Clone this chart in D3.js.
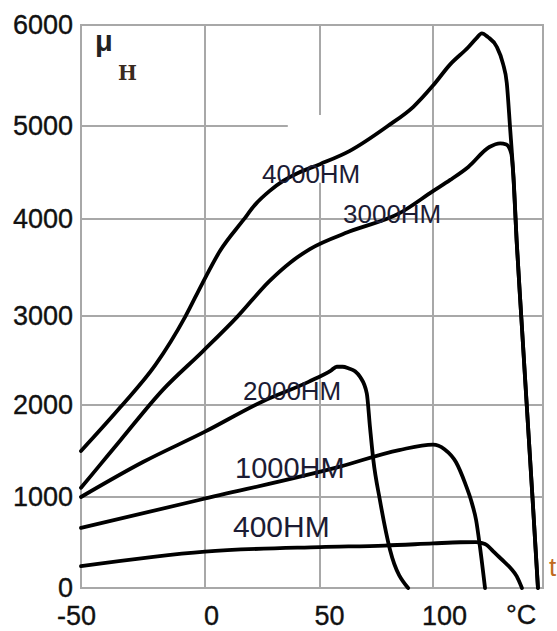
<!DOCTYPE html>
<html><head><meta charset="utf-8">
<script src="https://cdn.jsdelivr.net/npm/d3@7"></script>
<style>body{margin:0;background:#fff;} svg{display:block}</style>
</head><body><svg id="c" width="557" height="631"></svg>
<script>
// ---- data (temperature °C, initial permeability μH) ----
const xTicks = [-50, 0, 50, 100];
const yTicks = [0, 1000, 2000, 3000, 4000, 5000, 6000];
const xGrid = [0, 50, 100];
const yGrid = [1000, 2000, 3000, 4000, 5000];
const seriesNames = ["4000HM", "3000HM", "2000HM", "1000HM", "400HM"];

const t4000  = [-50,-34,-20,-8,-1,6.5,16.7,22,28,34,40,50,63,80,91.3,100,107.5,115.4,119,121.3,124,127.8,130.5,132.2,133.6,135.1,136.5,138.5,140.9,143.4,145.8];
const mu4000 = [1500,1980,2450,2990,3340,3670,3990,4160,4300,4410,4490,4590,4730,5000,5190,5400,5610,5780,5870,5918,5880,5785,5620,5425,4993,4455,3774,3000,2000,1000,0];

const t3000  = [-50,-42,-34,-17,-1,14,28,37,45.6,63,85,100,107.5,115.4,124.6,129.3,132,134.2,135.1,136.5,138.5,140.9,143.4,145.8];
const mu3000 = [1100,1360,1620,2170,2600,2990,3360,3550,3690,3870,4060,4300,4420,4560,4774,4814,4800,4700,4455,3774,3000,2000,1000,0];

const t2000  = [-50,-25,0,25,45,55,57.4,60,62.8,65.5,67.7,70.7,72.1,73.6,76.5,81,89];
const mu2000 = [1000,1380,1710,2040,2260,2390,2430,2430,2410,2380,2318,2131,1764,1402,967,418,0];

const t1000  = [-50,-2,58.8,85,100,105,110,114,117,118.8,120.5,122.7];
const mu1000 = [660,970,1330,1510,1570,1520,1380,1150,930,747,450,0];

const t400   = [-50,0,50,78.6,100,112,118.8,121,123.6,126,128,131,134,136.5,138.8];
const mu400  = [240,400,450,466,490,503,505,495,470,410,360,290,215,130,0];

// ---- layout ----
const x = d3.scaleLinear().domain([-50, 0, 50, 100, 148]).range([81, 205, 320, 433, 543]);
const y = d3.scaleLinear().domain([0,1000,2000,3000,4000,5000,6000]).range([588,497,405,316,219,126,25]);
const xMax = 148, yMax = 6000;

const svg = d3.select("#c");
const gridColor = "#a8a8a8";

// grid gaps (scan artefacts) in data units
const hGaps = {5000: [[36, 79.6]]};
const vGaps = {50: [[4390, 5110]]};

function segments(lo, hi, gaps) {
  let segs = [], start = lo;
  (gaps || []).forEach(([a, b]) => { segs.push([start, a]); start = b; });
  segs.push([start, hi]);
  return segs;
}

const g = svg.append("g");
yGrid.forEach(v => {
  segments(-50, xMax, hGaps[v]).forEach(([a, b]) => {
    g.append("line").attr("x1", x(a)).attr("x2", x(b)).attr("y1", y(v)).attr("y2", y(v))
      .attr("stroke", gridColor).attr("stroke-width", 2);
  });
});
xGrid.forEach(v => {
  segments(0, yMax, vGaps[v]).forEach(([a, b]) => {
    g.append("line").attr("x1", x(v)).attr("x2", x(v)).attr("y1", y(a)).attr("y2", y(b))
      .attr("stroke", gridColor).attr("stroke-width", 2);
  });
});
// frame
g.append("rect").attr("x", x(-50)).attr("y", y(yMax))
  .attr("width", x(xMax) - x(-50)).attr("height", y(0) - y(yMax))
  .attr("fill", "none").attr("stroke", gridColor).attr("stroke-width", 2);

// curves
const line = d3.line().x(d => x(d[0])).y(d => y(d[1])).curve(d3.curveMonotoneX);
const series = [[t4000, mu4000], [t3000, mu3000], [t2000, mu2000], [t1000, mu1000], [t400, mu400]];
series.forEach(([ts, ms]) => {
  svg.append("path").datum(ts.map((t, i) => [t, ms[i]]))
    .attr("d", line).attr("fill", "none").attr("stroke", "#000")
    .attr("stroke-width", 3.8).attr("stroke-linejoin", "round").attr("stroke-linecap", "round");
});

// axes tick labels
const font = "'Liberation Sans', Arial, sans-serif";
const yAxis = d3.axisLeft(y).tickValues(yTicks).tickSize(0).tickPadding(8).tickFormat(d => String(d));
const ya = svg.append("g").attr("transform", `translate(${x(-50)},0)`).call(yAxis);
ya.select(".domain").remove();
ya.selectAll("text").attr("font-family", font).attr("font-size", 27).attr("fill", "#111")
  .attr("stroke", "#111").attr("stroke-width", 0.35);

const xLabelNudge = [-5, 6, 9, 11];
const xAxis = d3.axisBottom(x).tickValues(xTicks).tickSize(0).tickPadding(18).tickFormat(d => String(d));
const xa = svg.append("g").attr("transform", `translate(0,${y(0)})`).call(xAxis);
xa.select(".domain").remove();
xa.selectAll("text").attr("font-family", font).attr("font-size", 27).attr("fill", "#111")
  .attr("stroke", "#111").attr("stroke-width", 0.35)
  .attr("dx", (d, i) => xLabelNudge[i]);

// unit labels
svg.append("text").attr("x", 506).attr("y", 624).attr("font-family", font).attr("font-size", 27)
  .attr("fill", "#111").attr("stroke", "#111").attr("stroke-width", 0.35).text("°C");
svg.append("text").attr("x", 549).attr("y", 576).attr("font-family", font).attr("font-size", 26)
  .attr("fill", "#c06a20").text("t");
svg.append("text").attr("x", 95).attr("y", 51).attr("font-family", font).attr("font-size", 29)
  .attr("font-weight", "bold").attr("fill", "#222").text("μ");
svg.append("text").attr("x", 118).attr("y", 80).attr("font-family", "'DejaVu Serif', serif").attr("font-size", 20)
  .attr("font-weight", "bold").attr("fill", "#3a2a20").text("H");

// series labels
const labelPos = [[262, 183, 26], [343, 223, 26], [243, 400, 26], [235, 478, 29], [233, 537, 30]];
seriesNames.forEach((n, i) => {
  const [lx, ly, fs] = labelPos[i];
  svg.append("text").attr("x", lx).attr("y", ly).attr("font-family", font).attr("font-size", fs)
    .attr("fill", "#1c1c34").text(n);
});
</script></body></html>
